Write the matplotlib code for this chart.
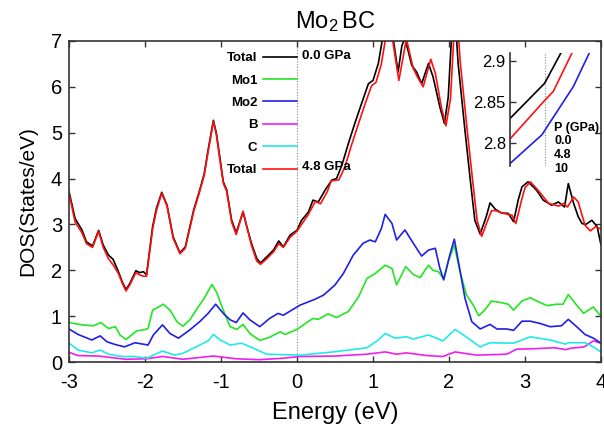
import matplotlib
matplotlib.use('Agg')
import matplotlib.pyplot as plt

plt.rcParams['font.family'] = ['Liberation Sans', 'DejaVu Sans']
plt.rcParams['axes.unicode_minus'] = False
plt.rcParams['mathtext.default'] = 'regular'

# ---------------- data ----------------
e_tot0 = [-3.00, -2.92, -2.83, -2.77, -2.69, -2.61, -2.55, -2.48, -2.42, -2.35, -2.30, -2.25, -2.20,
          -2.12, -2.07, -2.02, -1.98, -1.90, -1.85, -1.78, -1.71, -1.63, -1.54, -1.47, -1.36, -1.28,
          -1.22, -1.17, -1.10, -1.06, -1.01, -0.97, -0.925, -0.86, -0.80, -0.76, -0.71, -0.66, -0.60,
          -0.53, -0.48, -0.40, -0.31, -0.24, -0.18, -0.09, 0.00, 0.06, 0.15, 0.21, 0.28, 0.37, 0.46,
          0.52, 0.59, 0.675, 0.76, 0.85, 0.94, 1.00, 1.07, 1.12, 1.16, 1.22, 1.27, 1.33, 1.38, 1.42,
          1.46, 1.51, 1.575, 1.64, 1.73, 1.79, 1.88, 1.94, 1.99, 2.03, 2.06, 2.09, 2.12, 2.21, 2.28,
          2.34, 2.41, 2.49, 2.54, 2.61, 2.69, 2.78, 2.85, 2.91, 2.96, 3.04, 3.15, 3.24, 3.35, 3.44,
          3.52, 3.57, 3.64, 3.70, 3.75, 3.80, 3.88, 3.95, 4.00]
dos_tot0 = [3.72, 3.13, 2.88, 2.62, 2.53, 2.87, 2.55, 2.33, 2.24, 1.97, 1.75, 1.58, 1.71,
            1.99, 1.95, 1.97, 1.90, 2.95, 3.35, 3.70, 3.42, 2.73, 2.38, 2.51, 3.31, 3.75,
            4.11, 4.62, 5.27, 4.98, 4.40, 3.93, 3.75, 3.09, 2.82, 3.02, 3.27, 2.95, 2.59,
            2.26, 2.16, 2.29, 2.44, 2.64, 2.51, 2.77, 2.873, 3.09, 3.27, 3.53, 3.49, 3.75, 3.97,
            4.00, 4.29, 4.76, 5.20, 5.64, 6.07, 6.14, 6.51, 7.0, 7.4, 7.4, 7.0, 6.32, 6.9, 7.05,
            6.8, 6.47, 6.32, 6.07, 6.51, 6.22, 5.56, 5.20, 5.78, 7.0, 7.5, 7.3, 6.51, 5.05, 3.97,
            3.09, 2.79, 3.17, 3.47, 3.33, 3.25, 3.24, 3.06, 3.53, 3.82, 3.93, 3.75, 3.53, 3.42, 3.49,
            3.38, 3.89, 3.46, 3.17, 3.02, 3.00, 3.09, 2.95, 2.55]

e_tot48 = [-3.00, -2.92, -2.83, -2.77, -2.69, -2.61, -2.55, -2.48, -2.42, -2.35, -2.30, -2.25, -2.20,
           -2.12, -2.07, -2.02, -1.98, -1.90, -1.85, -1.78, -1.71, -1.63, -1.54, -1.47, -1.36, -1.28,
           -1.22, -1.17, -1.10, -1.06, -1.01, -0.97, -0.925, -0.86, -0.80, -0.76, -0.71, -0.66, -0.60,
           -0.53, -0.48, -0.40, -0.31, -0.24, -0.18, -0.09, 0.00, 0.06, 0.15, 0.24, 0.31, 0.40, 0.45,
           0.55, 0.63, 0.715, 0.80, 0.89, 0.98, 1.04, 1.11, 1.16, 1.20, 1.26, 1.34, 1.38, 1.44, 1.48,
           1.53, 1.59, 1.66, 1.76, 1.82, 1.90, 1.96, 2.02, 2.06, 2.09, 2.12, 2.15, 2.24, 2.31, 2.37,
           2.43, 2.50, 2.56, 2.62, 2.69, 2.78, 2.83, 2.88, 2.95, 3.00, 3.07, 3.17, 3.31, 3.44, 3.51,
           3.56, 3.64, 3.70, 3.79, 3.86, 3.93, 4.00]
dos_tot48 = [3.68, 3.05, 2.82, 2.58, 2.50, 2.85, 2.50, 2.25, 2.12, 1.93, 1.72, 1.55, 1.68,
             1.95, 1.90, 1.87, 1.87, 2.90, 3.30, 3.68, 3.40, 2.70, 2.36, 2.48, 3.28, 3.72,
             4.08, 4.58, 5.25, 4.95, 4.35, 3.90, 3.72, 3.05, 2.78, 3.00, 3.29, 2.95, 2.55,
             2.20, 2.13, 2.25, 2.40, 2.58, 2.50, 2.72, 2.852, 3.00, 3.22, 3.50, 3.45, 3.72, 3.95,
             3.97, 4.25, 4.72, 5.15, 5.60, 6.02, 6.10, 6.50, 7.0, 7.4, 7.0, 6.14, 6.5, 7.05, 6.75,
             6.40, 6.20, 6.00, 6.60, 6.30, 5.55, 5.15, 5.75, 7.0, 7.4, 7.2, 6.50, 5.05, 3.97, 3.09,
             2.74, 3.05, 3.30, 3.30, 3.25, 3.22, 3.20, 3.02, 3.50, 3.80, 3.93, 3.75, 3.46, 3.40, 3.46,
             3.38, 3.60, 3.49, 2.98, 2.86, 2.95, 2.90]

e_mo1 = [-3.00, -2.83, -2.68, -2.58, -2.48, -2.39, -2.33, -2.25, -2.11, -2.02, -1.96, -1.90, -1.82,
         -1.76, -1.67, -1.58, -1.50, -1.41, -1.30, -1.21, -1.12, -1.06, -0.97, -0.88, -0.79, -0.71,
         -0.62, -0.49, -0.36, -0.22, -0.16, 0.00, 0.11, 0.21, 0.28, 0.41, 0.52, 0.675, 0.81, 0.92,
         1.03, 1.16, 1.25, 1.31, 1.43, 1.53, 1.62, 1.73, 1.79, 1.86, 1.93, 1.99, 2.07, 2.14, 2.23,
         2.32, 2.39, 2.47, 2.56, 2.67, 2.78, 2.85, 2.96, 3.07, 3.18, 3.29, 3.42, 3.50, 3.57, 3.66,
         3.77, 3.90, 4.00]
dos_mo1 = [0.86, 0.81, 0.79, 0.86, 0.73, 0.77, 0.59, 0.49, 0.68, 0.70, 0.73, 1.13, 1.20,
           1.26, 1.13, 0.88, 0.78, 0.92, 1.20, 1.42, 1.69, 1.53, 1.13, 0.77, 0.71, 0.82,
           0.62, 0.47, 0.54, 0.66, 0.60, 0.71, 0.84, 0.95, 0.93, 1.05, 0.97, 1.10, 1.42, 1.82,
           1.93, 2.11, 2.04, 1.68, 2.08, 1.91, 1.84, 2.11, 2.00, 1.97, 1.81, 2.19, 2.55, 2.00, 1.46,
           1.24, 1.01, 1.13, 1.33, 1.30, 1.26, 1.13, 1.33, 1.40, 1.31, 1.23, 1.26, 1.26, 1.47, 1.28,
           1.06, 1.20, 0.99]

e_mo2 = [-3.00, -2.88, -2.70, -2.59, -2.50, -2.39, -2.27, -2.13, -1.96, -1.89, -1.77, -1.67, -1.56,
         -1.41, -1.28, -1.17, -1.07, -0.97, -0.88, -0.80, -0.71, -0.62, -0.49, -0.36, -0.25, -0.18,
         -0.05, 0.04, 0.24, 0.35, 0.50, 0.61, 0.74, 0.87, 0.96, 1.03, 1.11, 1.16, 1.25, 1.31, 1.42,
         1.53, 1.64, 1.73, 1.82, 1.88, 1.93, 2.01, 2.07, 2.14, 2.21, 2.30, 2.41, 2.54, 2.63, 2.76,
         2.85, 2.96, 3.07, 3.20, 3.33, 3.48, 3.57, 3.68, 3.79, 3.90, 4.00]
dos_mo2 = [0.72, 0.60, 0.48, 0.57, 0.44, 0.38, 0.33, 0.42, 0.37, 0.59, 0.81, 0.62, 0.52,
           0.70, 0.88, 1.06, 1.26, 1.06, 0.92, 0.86, 1.07, 0.92, 0.77, 0.95, 1.06, 1.02,
           1.15, 1.24, 1.37, 1.46, 1.68, 1.93, 2.33, 2.59, 2.66, 2.62, 2.91, 3.22, 3.02, 2.66, 2.88,
           2.59, 2.31, 2.44, 2.48, 2.04, 1.79, 2.33, 2.68, 2.04, 1.39, 0.88, 0.72, 0.82, 0.72, 0.72,
           0.69, 0.89, 0.89, 0.84, 0.77, 0.79, 0.93, 0.77, 0.60, 0.52, 0.41]

e_b = [-3.00, -2.88, -2.61, -2.26, -1.98, -1.77, -1.50, -1.10, -0.80, -0.50, -0.20, 0.04, 0.50, 0.92,
       1.16, 1.31, 1.44, 1.71, 1.92, 2.08, 2.36, 2.76, 2.89, 3.12, 3.39, 3.54, 3.60, 3.78, 3.90, 4.00]
dos_b = [0.21, 0.14, 0.13, 0.06, 0.07, 0.12, 0.06, 0.13, 0.07, 0.05, 0.08, 0.12, 0.13, 0.17,
         0.22, 0.17, 0.20, 0.14, 0.12, 0.22, 0.15, 0.17, 0.28, 0.29, 0.31, 0.27, 0.30, 0.33, 0.46, 0.41]

e_c = [-3.00, -2.88, -2.70, -2.59, -2.48, -2.31, -2.13, -1.98, -1.77, -1.61, -1.50, -1.28, -1.17,
       -1.10, -1.01, -0.88, -0.73, -0.57, -0.40, 0.04, 0.48, 0.92, 1.07, 1.16, 1.29, 1.44, 1.53,
       1.73, 1.92, 2.08, 2.19, 2.41, 2.54, 2.85, 3.07, 3.33, 3.53, 3.57, 3.79, 3.90, 4.00]
dos_c = [0.41, 0.26, 0.20, 0.26, 0.17, 0.12, 0.12, 0.08, 0.24, 0.15, 0.19, 0.37, 0.46,
         0.60, 0.48, 0.37, 0.41, 0.30, 0.17, 0.15, 0.22, 0.31, 0.48, 0.62, 0.52, 0.55, 0.50,
         0.59, 0.46, 0.71, 0.59, 0.33, 0.42, 0.41, 0.55, 0.48, 0.39, 0.42, 0.42, 0.33, 0.22]

# inset: DOS at the Fermi level for the three pressures
ins_e0 = [-0.10, 0.00, 0.047]
ins_d0 = [2.830, 2.873, 2.91]
ins_e48 = [-0.10, 0.00, 0.025, 0.079]
ins_d48 = [2.805, 2.852, 2.863, 2.91]
ins_e10 = [-0.10, -0.008, 0.083, 0.129]
ins_d10 = [2.775, 2.810, 2.869, 2.91]
pressures = ['0.0', '4.8', '10']

legend_labels = ['Total', 'Mo1', 'Mo2', 'B', 'C', 'Total']
x_ticks = [-3, -2, -1, 0, 1, 2, 3, 4]
y_ticks = [0, 1, 2, 3, 4, 5, 6, 7]

# ---------------- figure ----------------
fig = plt.figure(figsize=(6.04, 4.29), dpi=100)
ax = fig.add_axes([69 / 604, 67 / 429, 532 / 604, 321 / 429])

c_green = '#22e622'
c_blue = '#1f1fe6'
c_mag = '#f21df2'
c_cyan = '#22e8e8'
lw = 1.2

ax.axvline(0, color='#888888', ls=(0, (1, 1.5)), lw=0.8, zorder=1)
l_b, = ax.plot(e_b, dos_b, color=c_mag, lw=lw)
l_c, = ax.plot(e_c, dos_c, color=c_cyan, lw=lw)
l_mo1, = ax.plot(e_mo1, dos_mo1, color=c_green, lw=lw)
l_mo2, = ax.plot(e_mo2, dos_mo2, color=c_blue, lw=lw)
l_t0, = ax.plot(e_tot0, dos_tot0, color='black', lw=lw)
l_t48, = ax.plot(e_tot48, dos_tot48, color='#ff1010', lw=lw)

ax.set_xlim(-3, 4)
ax.set_ylim(0, 7)
ax.set_xticks(x_ticks)
ax.set_yticks(y_ticks)
ax.tick_params(direction='in', top=True, right=True, length=4, width=1, labelsize=14.5,
               color='#333333')
ax.tick_params(axis='x', pad=8)
ax.tick_params(axis='y', pad=5)
for s in ax.spines.values():
    s.set_color('#333333')
    s.set_linewidth(1.2)

ax.set_xlabel('Energy (eV)', fontsize=17, labelpad=7)
ax.set_ylabel('DOS(States/eV)', fontsize=15, labelpad=10)
ax.set_title(r'Mo$_2\,$BC', fontsize=17, pad=9)

leg = ax.legend([l_t0, l_mo1, l_mo2, l_b, l_c, l_t48], legend_labels,
                loc='upper right', bbox_to_anchor=(3 / 7, 0.966), markerfirst=False,
                frameon=False, handlelength=2.6, handletextpad=0.4, labelspacing=0.77,
                borderpad=0, borderaxespad=0, prop={'weight': 'bold', 'size': 9.5})

ax.text(0.066, 6.67, '0.0 GPa', fontsize=9.5, fontweight='bold', va='center', ha='left')
ax.text(0.066, 4.25, '4.8 GPa', fontsize=9.5, fontweight='bold', va='center', ha='left')

# ---------------- inset ----------------
axin = fig.add_axes([510 / 604, 263 / 429, 90 / 604, 113 / 429])
axin.patch.set_alpha(0)
for s in ['top', 'right', 'bottom']:
    axin.spines[s].set_visible(False)
axin.spines['left'].set_color('#333333')
axin.spines['left'].set_linewidth(1.2)
axin.axvline(0, color='#888888', ls=(0, (1, 1.5)), lw=0.8)
axin.plot(ins_e0, ins_d0, color='black', lw=lw)
axin.plot(ins_e48, ins_d48, color='#ff1010', lw=lw)
axin.plot(ins_e10, ins_d10, color=c_blue, lw=lw)
axin.set_xlim(-0.1, 0.16)
axin.set_ylim(2.772, 2.91)
axin.set_xticks([])
axin.set_yticks([2.8, 2.85, 2.9])
axin.set_yticklabels(['2.8', '2.85', '2.9'])
axin.tick_params(axis='y', direction='in', length=4, width=1, labelsize=12, pad=3, color='#333333')

axin.text(0.49, 0.34, 'P (GPa)', transform=axin.transAxes, fontsize=9, fontweight='bold',
          va='center', ha='left')
for i, p in enumerate(pressures):
    axin.text(0.49, 0.225 - i * 0.125, p, transform=axin.transAxes, fontsize=9,
              fontweight='bold', va='center', ha='left')

fig.savefig('out.png', dpi=100)
